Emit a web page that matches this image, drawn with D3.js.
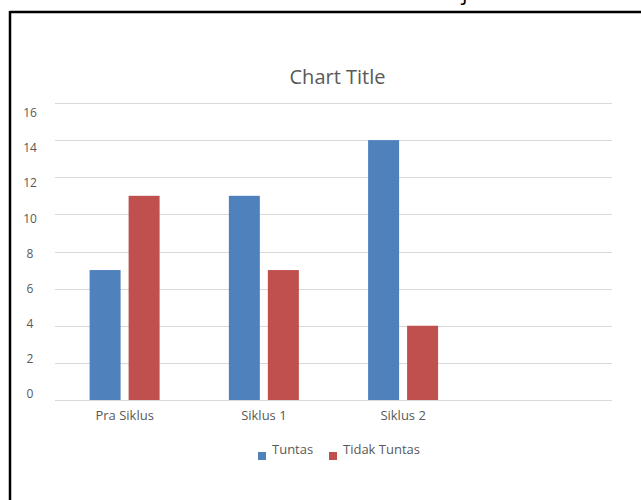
<!DOCTYPE html>
<html>
<head>
<meta charset="utf-8">
<script src="https://cdn.jsdelivr.net/npm/d3@7"></script>
<style>
  html, body { margin: 0; padding: 0; background: #fff; }
  svg { display: block; }
</style>
</head>
<body>
<svg id="chart" width="641" height="500"></svg>
<script>
const categories = ["Pra Siklus", "Siklus 1", "Siklus 2", ""];
const seriesNames = ["Tuntas", "Tidak Tuntas"];
const tuntas = [7, 11, 14, null];
const tidakTuntas = [11, 7, 4, null];
const yTicks = [0, 2, 4, 6, 8, 10, 12, 14, 16];
const colors = ["#4F81BD", "#C0504D"];
const title = "Chart Title";

const svg = d3.select("#chart");
const font = "'Open Sans', 'Noto Sans', sans-serif";

// outer frame fragments (top & left borders of the embedding document)
svg.append("line").attr("x1", 10).attr("x2", 641).attr("y1", 12).attr("y2", 12)
  .attr("stroke", "#000").attr("stroke-width", 2.5);
svg.append("line").attr("x1", 10).attr("x2", 10).attr("y1", 11).attr("y2", 500)
  .attr("stroke", "#000").attr("stroke-width", 2.5);
svg.append("text").attr("x", 462).attr("y", 0).attr("font-family", font)
  .attr("font-size", 22).attr("fill", "#000").text("j");

const x0 = d3.scaleBand().domain(categories).range([55, 612]).paddingInner(0).paddingOuter(0);
const x1 = d3.scaleBand().domain(seriesNames).range([34.6, 34.6 + 70]).paddingInner(0.205);
const y = d3.scaleLinear().domain([0, 16]).range([400, 103]);
const yLab = d3.scaleLinear().domain([0, 16]).range([394, 113]);

// gridlines
svg.append("g").selectAll("line").data(yTicks).join("line")
  .attr("x1", 55).attr("x2", 612)
  .attr("y1", d => Math.round(y(d)) + 0.5).attr("y2", d => Math.round(y(d)) + 0.5)
  .attr("stroke", "#D9D9D9").attr("stroke-width", 1);

// y labels
svg.append("g").selectAll("text").data(yTicks).join("text")
  .attr("x", 30).attr("y", d => yLab(d)).attr("dy", "0.35em")
  .attr("text-anchor", "middle").attr("font-family", font).attr("font-size", 12)
  .attr("fill", "#595959").text(d => d);

// bars
const rows = categories.map((c, i) => ({ c, vals: [tuntas[i], tidakTuntas[i]] }));
const g = svg.append("g");
rows.forEach(r => {
  r.vals.forEach((v, j) => {
    if (v == null) return;
    g.append("rect")
      .attr("x", x0(r.c) + x1(seriesNames[j]))
      .attr("y", y(v))
      .attr("width", x1.bandwidth())
      .attr("height", y(0) - y(v))
      .attr("fill", colors[j]);
  });
});

// category labels
svg.append("g").selectAll("text").data(categories).join("text")
  .attr("x", d => x0(d) + x0.bandwidth() / 2).attr("y", 415).attr("dy", "0.35em")
  .attr("text-anchor", "middle").attr("font-family", font).attr("font-size", 13)
  .attr("fill", "#595959").text(d => d);

// title
svg.append("text").attr("x", 337.5).attr("y", 77).attr("dy", "0.35em")
  .attr("text-anchor", "middle").attr("font-family", font).attr("font-size", 20)
  .attr("fill", "#595959").text(title);

// legend
const legX = [258, 329];
const leg = svg.append("g");
seriesNames.forEach((s, i) => {
  leg.append("rect").attr("x", legX[i]).attr("y", 452).attr("width", 8).attr("height", 8)
    .attr("fill", colors[i]);
  leg.append("text").attr("x", legX[i] + 14).attr("y", 449).attr("dy", "0.35em")
    .attr("font-family", font).attr("font-size", 13).attr("fill", "#595959").text(s);
});
</script>
</body>
</html>
